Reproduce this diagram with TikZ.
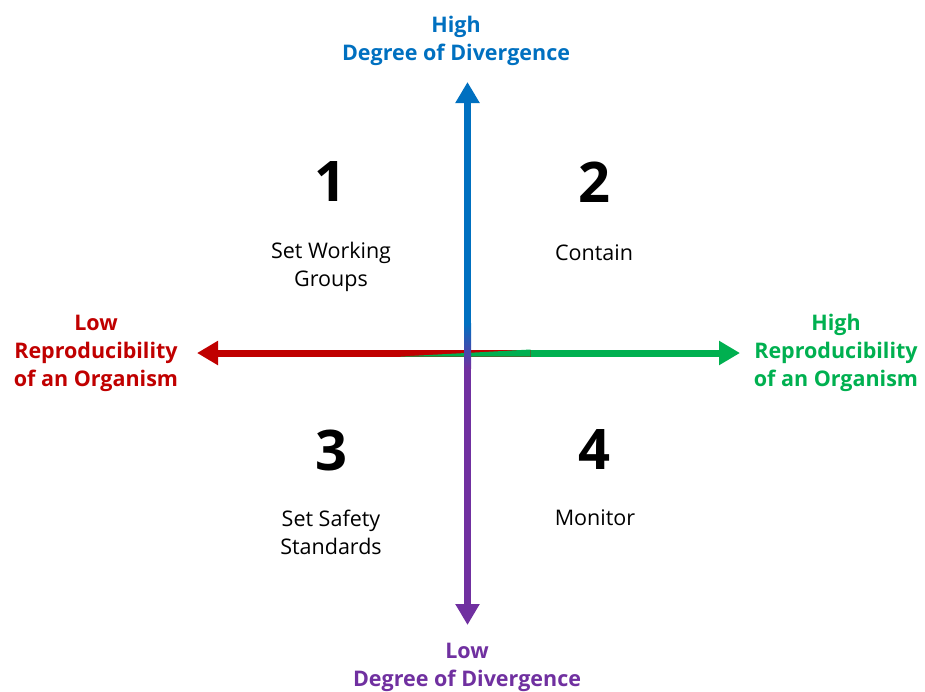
\documentclass[tikz,border=0pt]{standalone}
\usepackage{fontspec}
\setmainfont{Open Sans}
\usetikzlibrary{arrows.meta}
\definecolor{cblue}{HTML}{0070C0}
\definecolor{cred}{HTML}{C00000}
\definecolor{cgreen}{HTML}{00B050}
\definecolor{cpurple}{HTML}{7030A0}
\tikzset{
  axis/.style={line width=7pt, -{Triangle[width=23pt,length=21pt]}},
  axlabel/.style={font=\fontsize{21.5}{28}\selectfont\bfseries, align=center, inner sep=0pt},
  num/.style={font=\fontsize{56}{60}\selectfont\bfseries, inner sep=0pt},
  quad/.style={font=\fontsize{21.5}{28}\selectfont, align=center, inner sep=0pt}
}
\begin{document}
\begin{tikzpicture}[x=1pt,y=-1pt]
\useasboundingbox (0,0) rectangle (925,691);
\coordinate (c) at (467.5,353);
\coordinate (top) at (467.5,82);
\coordinate (bot) at (467.5,625);
\coordinate (left) at (197,353);
\coordinate (right) at (740,353);
% horizontal axis
\draw[axis, cred] (c) -- (left);
\draw[axis, cgreen] (c) -- (right);
\fill[cred] ([xshift=-67pt,yshift=-3.5pt]c) rectangle ([xshift=63pt,yshift=3.5pt]c);
\fill[cgreen] ([xshift=-67pt,yshift=-3.5pt]c) -- ([xshift=63pt,yshift=-3.5pt]c) -- ([xshift=63pt,yshift=3.5pt]c) -- cycle;
% vertical axis
\draw[axis, cblue] (c) -- (top);
\draw[axis, cpurple] (c) -- (bot);
\shade[top color=cblue, bottom color=cpurple] ([xshift=-3.5pt,yshift=-15pt]c) rectangle ([xshift=3.5pt,yshift=30pt]c);
% axis labels
\node[axlabel, text=cblue] (hd) at (456,41) {High\\Degree of Divergence};
\node[axlabel, text=cpurple] (ld) at (467,667) {Low\\Degree of Divergence};
\node[axlabel, text=cred] (lr) at (96,353) {Low\\Reproducibility\\of an Organism};
\node[axlabel, text=cgreen] (hr) at (836,353) {High\\Reproducibility\\of an Organism};
% quadrants
\node[num] (n1) at (330,182) {1};
\node[num] (n2) at (594,182) {2};
\node[num] (n3) at (331,450) {3};
\node[num] (n4) at (594,450) {4};
\node[quad] (q1) at (331,267) {Set Working\\Groups};
\node[quad] (q2) at (594,253) {Contain};
\node[quad] (q3) at (331,532) {Set Safety\\Standards};
\node[quad] (q4) at (595,518) {Monitor};
\end{tikzpicture}
\end{document}
